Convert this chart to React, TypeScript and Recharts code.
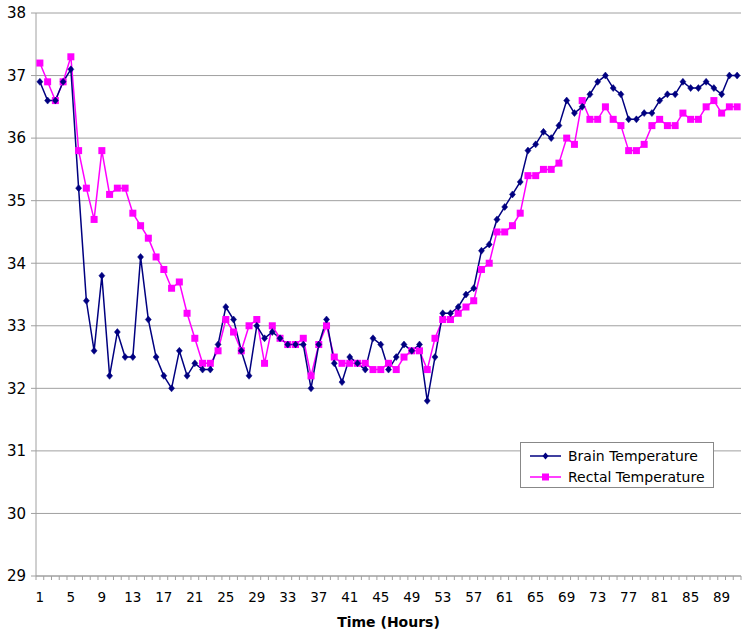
import { LineChart, Line, XAxis, YAxis, CartesianGrid } from "recharts";

const hours = Array.from({ length: 91 }, (_, i) => i + 1);

const brainTemp = [
  36.9, 36.6, 36.6, 36.9, 37.1, 35.2, 33.4, 32.6, 33.8, 32.2, 32.9, 32.5, 32.5, 34.1, 33.1, 32.5, 32.2, 32.0, 32.6, 32.2,
  32.4, 32.3, 32.3, 32.7, 33.3, 33.1, 32.6, 32.2, 33.0, 32.8, 32.9, 32.8, 32.7, 32.7, 32.7, 32.0, 32.7, 33.1, 32.4, 32.1,
  32.5, 32.4, 32.3, 32.8, 32.7, 32.3, 32.5, 32.7, 32.6, 32.7, 31.8, 32.5, 33.2, 33.2, 33.3, 33.5, 33.6, 34.2, 34.3, 34.7,
  34.9, 35.1, 35.3, 35.8, 35.9, 36.1, 36.0, 36.2, 36.6, 36.4, 36.5, 36.7, 36.9, 37.0, 36.8, 36.7, 36.3, 36.3, 36.4, 36.4,
  36.6, 36.7, 36.7, 36.9, 36.8, 36.8, 36.9, 36.8, 36.7, 37.0, 37.0,
];

const rectalTemp = [
  37.2, 36.9, 36.6, 36.9, 37.3, 35.8, 35.2, 34.7, 35.8, 35.1, 35.2, 35.2, 34.8, 34.6, 34.4, 34.1, 33.9, 33.6, 33.7, 33.2,
  32.8, 32.4, 32.4, 32.6, 33.1, 32.9, 32.6, 33.0, 33.1, 32.4, 33.0, 32.8, 32.7, 32.7, 32.8, 32.2, 32.7, 33.0, 32.5, 32.4,
  32.4, 32.4, 32.4, 32.3, 32.3, 32.4, 32.3, 32.5, 32.6, 32.6, 32.3, 32.8, 33.1, 33.1, 33.2, 33.3, 33.4, 33.9, 34.0, 34.5,
  34.5, 34.6, 34.8, 35.4, 35.4, 35.5, 35.5, 35.6, 36.0, 35.9, 36.6, 36.3, 36.3, 36.5, 36.3, 36.2, 35.8, 35.8, 35.9, 36.2,
  36.3, 36.2, 36.2, 36.4, 36.3, 36.3, 36.5, 36.6, 36.4, 36.5, 36.5,
];

const yTicks = [29, 30, 31, 32, 33, 34, 35, 36, 37, 38];

const seriesInfo = [
  { key: "brain", name: "Brain Temperature" },
  { key: "rectal", name: "Rectal Temperature" },
];

const data = hours.map((h, i) => ({ hour: h, brain: brainTemp[i], rectal: rectalTemp[i] }));

const W = 749;
const H = 636;
const M = { top: 13, right: 8, left: 0, bottom: 0 };
const Y_W = 36;
const PLOT_W = W - M.left - M.right - Y_W;
const FONT = "'DejaVu Sans', Verdana, sans-serif";
const GRID = "#a0a0a0";
const NAVY = "#000080";
const MAGENTA = "#ff00ff";

const Diamond = (p: any) => {
  const { cx, cy } = p;
  if (cx == null || cy == null) return null;
  return <path d={`M${cx},${cy - 3.5}L${cx + 3},${cy}L${cx},${cy + 3.5}L${cx - 3},${cy}Z`} fill={NAVY} stroke={NAVY} strokeWidth={0.5} />;
};

const Square = (p: any) => {
  const { cx, cy } = p;
  if (cx == null || cy == null) return null;
  return <rect x={cx - 3.5} y={cy - 3.5} width={7} height={7} fill={MAGENTA} />;
};

const XTick = (p: any) => {
  const { x, y, payload, index } = p;
  const bw = PLOT_W / hours.length;
  const showLabel = (payload.value - 1) % 4 === 0;
  return (
    <g>
      <line x1={x - bw / 2} x2={x - bw / 2} y1={y} y2={y + 4} stroke={GRID} />
      {index === hours.length - 1 && <line x1={x + bw / 2} x2={x + bw / 2} y1={y} y2={y + 4} stroke={GRID} />}
      {showLabel && (
        <text x={x} y={y + 26} textAnchor="middle" fontSize={13.5} fontFamily={FONT} fill="#000">
          {payload.value}
        </text>
      )}
    </g>
  );
};

const LegendBox = () => (
  <div
    style={{
      position: "absolute",
      left: 520,
      top: 442,
      border: "1px solid #888",
      background: "#fff",
      width: 194,
      height: 46,
      boxSizing: "border-box",
      padding: "2px 0 0 9px",
      fontFamily: FONT,
      fontSize: 14,
      color: "#000",
    }}
  >
    {seriesInfo.map((it) => {
      const color = it.key === "brain" ? NAVY : MAGENTA;
      return (
        <div key={it.name} style={{ display: "flex", alignItems: "center", height: 21 }}>
          <svg width={34} height={12} style={{ marginRight: 4 }}>
            <line x1={0} x2={31} y1={6} y2={6} stroke={color} strokeWidth={1.5} />
            {it.key === "brain" ? (
              <path d="M15.5,2.5L18.5,6L15.5,9.5L12.5,6Z" fill={color} />
            ) : (
              <rect x={12} y={2.5} width={7} height={7} fill={color} />
            )}
          </svg>
          <span>{it.name}</span>
        </div>
      );
    })}
  </div>
);

export default function App() {
  return (
    <div style={{ position: "absolute", left: 0, top: 0, width: W, height: H, background: "#fff" }}>
      <LineChart width={W} height={H} data={data} margin={M}>
        <CartesianGrid vertical={false} stroke={GRID} />
        <XAxis
          dataKey="hour"
          scale="band"
          interval={0}
          height={60}
          tickSize={0}
          tickMargin={0}
          tickLine={false}
          axisLine={{ stroke: GRID }}
          tick={<XTick />}
          label={{ value: "Time (Hours)", position: "insideBottom", offset: 9, fontFamily: FONT, fontSize: 14, fontWeight: "bold", fill: "#000" }}
        />
        <YAxis
          domain={[29, 38]}
          ticks={yTicks}
          width={Y_W}
          interval={0}
          tickSize={5}
          tickMargin={5}
          axisLine={{ stroke: GRID }}
          tickLine={{ stroke: GRID }}
          tick={{ fontFamily: FONT, fontSize: 15, fill: "#000" }}
        />
        <Line dataKey="rectal" name="Rectal Temperature" stroke={MAGENTA} strokeWidth={1.5} dot={<Square />} isAnimationActive={false} />
        <Line dataKey="brain" name="Brain Temperature" stroke={NAVY} strokeWidth={1.5} dot={<Diamond />} isAnimationActive={false} />
      </LineChart>
      <LegendBox />
    </div>
  );
}
